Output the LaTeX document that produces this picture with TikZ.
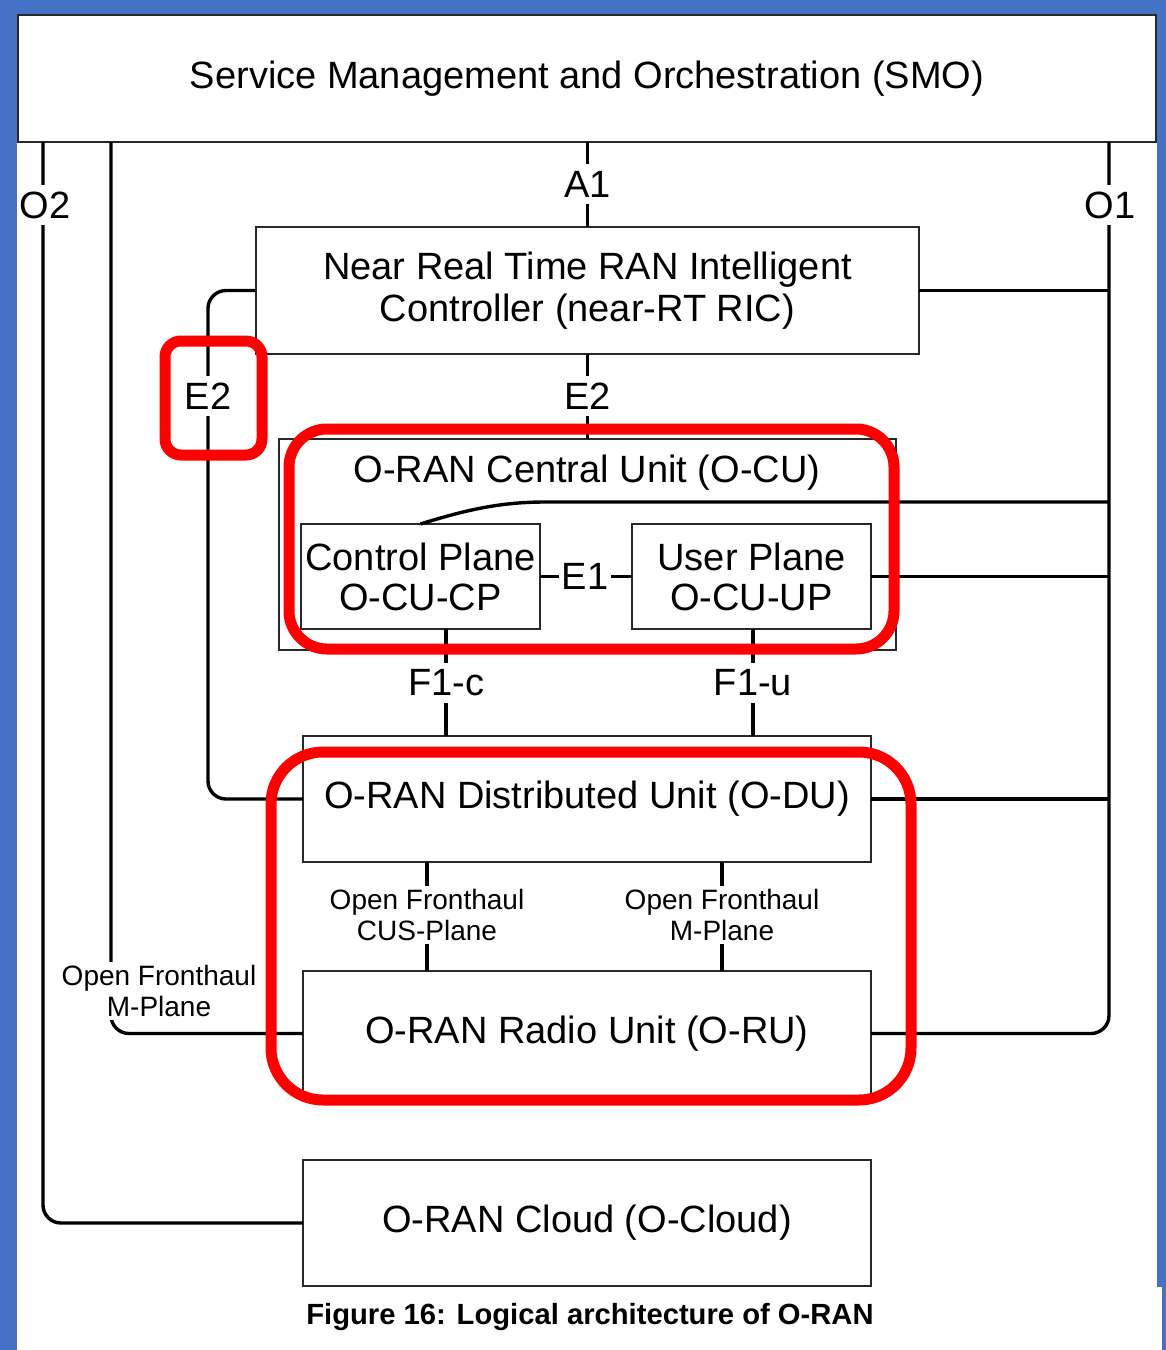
\documentclass[tikz,border=0pt]{standalone}
\usepackage{fontspec}
\setmainfont{Liberation Sans}
\newcommand\bigtxt{\fontsize{38}{42}\selectfont}
\newcommand\smalltxt{\fontsize{28}{31}\selectfont}
\newcommand\captxt{\fontsize{29.2}{34}\selectfont\bfseries}
\definecolor{frameblue}{RGB}{68,114,196}
\definecolor{hlred}{RGB}{255,0,0}
\definecolor{edgegray}{RGB}{40,40,40}
\tikzset{
  unit/.style={draw=edgegray, line width=1.7pt, fill=white, inner sep=0pt,
    outer sep=0pt, align=center, font=\bigtxt},
  link/.style={line width=3.4pt, draw=black},
  tag/.style={fill=white, inner xsep=3pt, inner ysep=7pt, font=\bigtxt},
  smalltag/.style={fill=white, inner sep=3pt, align=center, font=\smalltxt},
  highlight/.style={draw=hlred, line width=11pt},
}
\begin{document}
\begin{tikzpicture}[x=1pt, y=-1pt]
\useasboundingbox (0,0) rectangle (1166,1350);
% page frame
\fill[frameblue] (0,0) rectangle (1166,1350);
\fill[white] (17,14) rectangle (1157,1287);
\fill[white] (17,1287) rectangle (1162,1350);

% units
\node[unit, minimum width=1138, minimum height=127] (smo) at (587,78.5)
  {\raisebox{-2pt}{Service Management and Orchestration (SMO)}};
\node[unit, minimum width=663, minimum height=127] (ric) at (587.5,290.5)
  {Near Real Time RAN Intelligent\\Controller (near-RT RIC)};
\node[unit, line width=1.3pt, minimum width=617, minimum height=211] (cu) at (587.5,544.5) {};
\node[font=\bigtxt] (cutitle) at (587,473) {O-RAN Central Unit (O-CU)};
\node[unit, minimum width=239, minimum height=105] (cp) at (420.5,576.5)
  {Control Plane\\[-2pt]O-CU-CP};
\node[unit, minimum width=239, minimum height=105] (up) at (751.5,576.5)
  {User Plane\\[-2pt]O-CU-UP};
\node[unit, minimum width=568, minimum height=126] (du) at (587,799)
  {\raisebox{-2pt}{O-RAN Distributed Unit (O-DU)}};
\node[unit, minimum width=568, minimum height=125] (ru) at (587,1033.5)
  {\raisebox{-2pt}{O-RAN Radio Unit (O-RU)}};
\node[unit, minimum width=568, minimum height=126] (cloud) at (587,1223)
  {\raisebox{-2pt}{O-RAN Cloud (O-Cloud)}};

% x positions of the vertical interfaces
\coordinate (o2x) at (43,0);
\coordinate (mpx) at (111,0);
\coordinate (o1x) at (1109,0);
\coordinate (e2x) at (208,0);
\coordinate (f1cx) at (446,0);
\coordinate (f1ux) at (753,0);
\coordinate (cusx) at (427,0);
\coordinate (mplx) at (722,0);
\coordinate (cpturn) at (545,502);

% interfaces
\draw[link, rounded corners=18] (smo.south -| o2x) |- (cloud.west);
\draw[link, rounded corners=18] (smo.south -| mpx) |- (ru.west);
\draw[link, rounded corners=18] (smo.south -| o1x) |- (ru.east);
\draw[link] (ric.east) -- (ric.east -| o1x);
\draw[link] (cp.north) .. controls +(45,-14) and +(-45,0) .. (cpturn) -- (cpturn -| o1x);
\draw[link] (up.east) -- (up.east -| o1x);
\draw[link] (du.east) -- (du.east -| o1x);
\draw[link] (ric.north) -- (ric.north |- smo.south);
\draw[link] (ric.south) -- (ric.south |- cu.north);
\draw[link, rounded corners=18] (ric.west) -| (e2x |- cu.center) |- (du.west);
\draw[link] (cp.east) -- (up.west);
\draw[link] (cp.south -| f1cx) -- (du.north -| f1cx);
\draw[link] (up.south -| f1ux) -- (du.north -| f1ux);
\draw[link] (du.south -| cusx) -- (ru.north -| cusx);
\draw[link] (du.south -| mplx) -- (ru.north -| mplx);

% interface labels
\node[tag] (lo2) at (45,205) {O2};
\node[tag] (lo1) at (1110,205) {O1};
\node[tag] (la1) at (587.5,184) {A1};
\node[tag] (le2) at (587.5,396) {E2};
\node[tag] (le2l) at (208,396) {E2};
\node[tag] (le1) at (585,576.5) {E1};
\node[tag] (lf1c) at (446,683) {F1-c};
\node[tag] (lf1u) at (753,683) {F1-u};
\node[smalltag] (lcus) at (427,915) {Open Fronthaul\\CUS-Plane};
\node[smalltag] (lmpr) at (722,915) {Open Fronthaul\\M-Plane};
\node[smalltag] (lmpl) at (159,991) {Open Fronthaul\\M-Plane};

% highlighted regions
\draw[highlight, rounded corners=16] (165,341) rectangle (262,455);
\draw[highlight, rounded corners=38] (289,429) rectangle (894,649);
\draw[highlight, rounded corners=52] (271,752) rectangle (911,1100);

% caption
\node[font=\captxt] (cap) at (590,1317) {Figure 16: Logical architecture of O-RAN};
\end{tikzpicture}
\end{document}
